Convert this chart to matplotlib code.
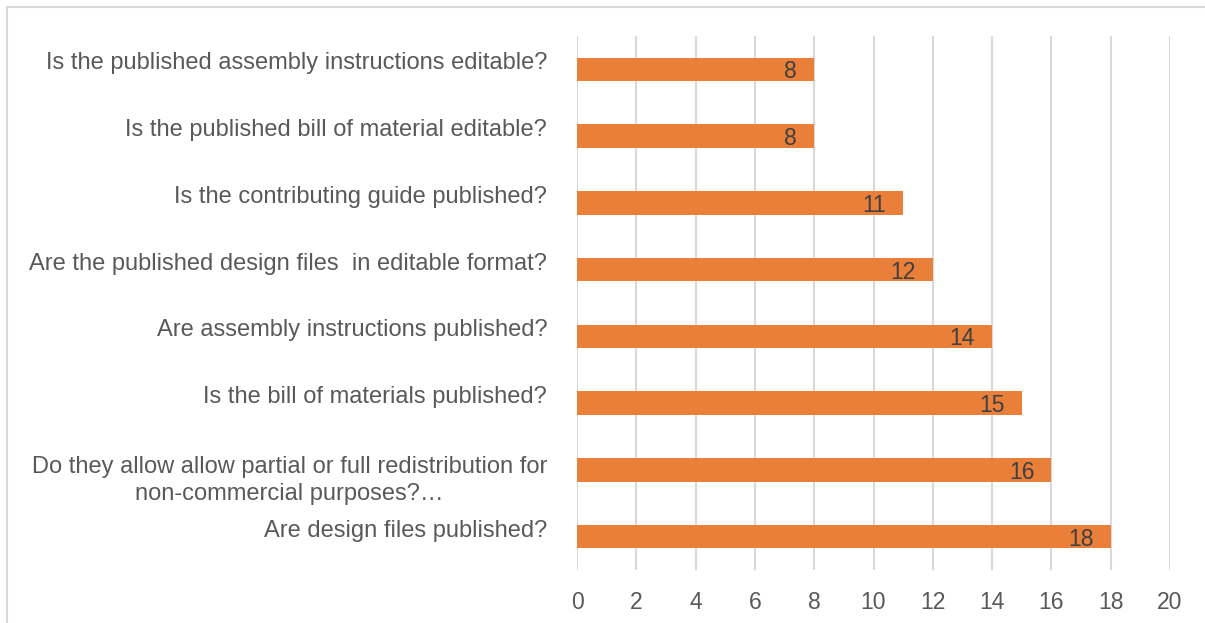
import matplotlib
matplotlib.use("Agg")
import matplotlib.pyplot as plt
from matplotlib.patches import Rectangle
import matplotlib.transforms as mtransforms

categories = [
    "Are design files published?",
    "Do they allow allow partial or full redistribution for\nnon-commercial purposes?…",
    "Is the bill of materials published?",
    "Are assembly instructions published?",
    "Are the published design files  in editable format?",
    "Is the contributing guide published?",
    "Is the published bill of material editable?",
    "Is the published assembly instructions editable?",
]
values = [18, 16, 15, 14, 12, 11, 8, 8]
xticks = list(range(0, 21, 2))

BAR = "#E97F39"
TXT = "#595959"
GRID = "#D9D9D9"

plt.rcParams['font.family'] = ['Liberation Sans', 'DejaVu Sans']

fig = plt.figure(figsize=(12.05, 6.23), dpi=100)
fig.patches.append(Rectangle((7/1205, -0.1), 1.2, 1 - 7/623 + 0.1, transform=fig.transFigure,
                             fill=False, edgecolor=GRID, linewidth=1.5))
ax = fig.add_axes([577/1205, 1 - 570/623, (1170 - 577)/1205, (570 - 36)/623])

y = list(range(len(categories)))
ax.barh(y, values, height=0.35, color=BAR, zorder=3)
ax.set_ylim(-0.5, len(categories) - 0.5)
ax.set_xlim(0, 20)
ax.set_xticks(xticks)
ax.set_yticks(y)
ax.set_yticklabels(categories, multialignment='center', linespacing=1.3)
ax.tick_params(axis='both', length=0, colors=TXT)
ax.tick_params(axis='y', pad=21.5, labelsize=17)
ax.tick_params(axis='x', pad=15, labelsize=16.5)
ax.grid(axis='x', color=GRID, linewidth=1.5, zorder=0)
for s in ax.spines.values():
    s.set_visible(False)

fig.canvas.draw()
for lab in ax.get_yticklabels():
    lab.set_va('baseline')
    n = lab.get_text().count("\n")
    if n:
        lab.set_transform(lab.get_transform() +
                          mtransforms.ScaledTranslation(0, -n * 30 / 100, fig.dpi_scale_trans))

for yi, v in zip(y, values):
    ax.annotate(str(v), (v, yi), xytext=(-17, -9), textcoords='offset pixels',
                ha='right', va='baseline', fontsize=16.5, color='#404040', zorder=4)

fig.savefig("out.png", dpi=100)
